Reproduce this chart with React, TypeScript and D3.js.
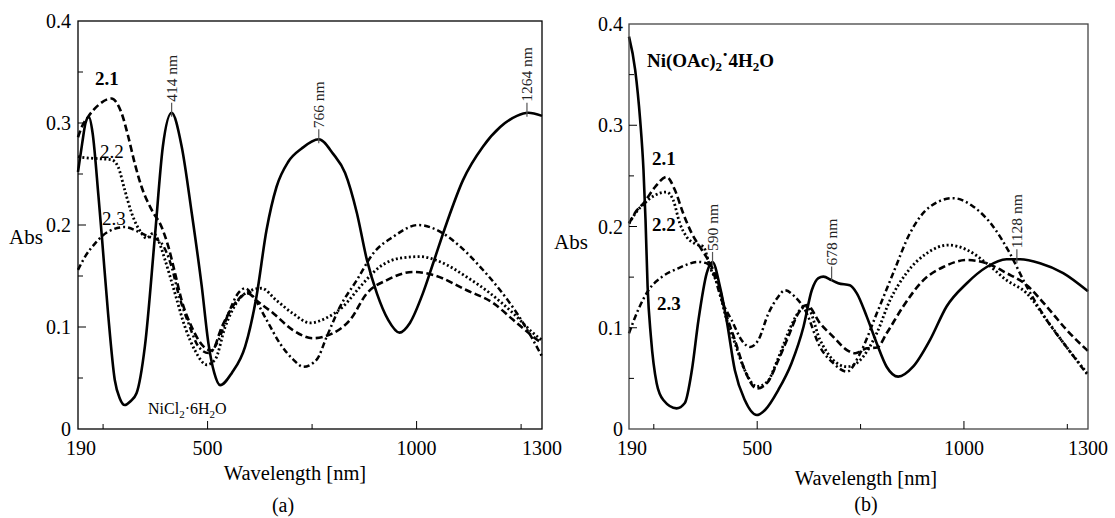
import React from "react";
import * as d3 from "d3";

// ---------- data (wavelength nm, absorbance) ----------
const xTickLabels = [190, 500, 1000, 1300];
const xTicksAll = [250, 500, 750, 1000, 1250];
const yTickLabels = [0, 0.1, 0.2, 0.3, 0.4];
const yTicksAll = [0.05, 0.1, 0.15, 0.2, 0.25, 0.3, 0.35];

// Panel (a) NiCl2·6H2O
const aSolid: [number, number][] = [
  [190, 0.252], [200, 0.28], [208, 0.3], [216, 0.306], [225, 0.29], [239, 0.228], [247, 0.189],
  [262, 0.113], [278, 0.048], [290, 0.03], [302, 0.0235], [315, 0.027], [330, 0.035], [350, 0.081],
  [374, 0.189], [393, 0.277], [414, 0.31], [438, 0.277], [462, 0.212], [486, 0.14], [502, 0.084],
  [516, 0.055], [530, 0.043], [558, 0.055], [590, 0.081], [617, 0.13], [641, 0.195], [665, 0.2375],
  [693, 0.262], [725, 0.275], [766, 0.284], [800, 0.27], [829, 0.251], [857, 0.212], [881, 0.166],
  [905, 0.133], [932, 0.107], [959, 0.0945], [984, 0.104], [1015, 0.133], [1040, 0.163], [1072, 0.202],
  [1111, 0.244], [1159, 0.277], [1200, 0.296], [1240, 0.307], [1267, 0.31], [1300, 0.307],
];
const aDashed: [number, number][] = [
  [190, 0.286], [200, 0.297], [214, 0.306], [240, 0.318], [270, 0.324], [294, 0.31], [310, 0.287],
  [326, 0.26], [342, 0.2375], [366, 0.215], [390, 0.198], [406, 0.179], [422, 0.153], [438, 0.126],
  [462, 0.1], [490, 0.081], [510, 0.077], [534, 0.1], [566, 0.1235], [597, 0.133], [617, 0.126],
  [657, 0.1135], [704, 0.097], [752, 0.089], [800, 0.094], [841, 0.107], [881, 0.133], [929, 0.146],
  [992, 0.154], [1040, 0.151], [1120, 0.136], [1183, 0.1235], [1231, 0.107], [1279, 0.0905], [1300, 0.084],
];
const aDotted: [number, number][] = [
  [190, 0.267], [207, 0.266], [240, 0.265], [270, 0.264], [286, 0.257], [302, 0.234], [318, 0.212],
  [342, 0.192], [354, 0.187], [370, 0.192], [382, 0.185], [398, 0.166], [422, 0.133], [446, 0.1],
  [470, 0.077], [498, 0.063], [518, 0.068], [542, 0.1], [573, 0.126], [605, 0.136], [629, 0.138],
  [665, 0.126], [705, 0.113], [745, 0.104], [785, 0.109], [824, 0.12], [865, 0.1395], [912, 0.159],
  [960, 0.1675], [1008, 0.169], [1056, 0.164], [1120, 0.149], [1176, 0.133], [1231, 0.1135],
  [1279, 0.094], [1300, 0.087],
];
const aDashDot: [number, number][] = [
  [190, 0.156], [207, 0.169], [231, 0.182], [262, 0.1935], [302, 0.198], [334, 0.1935], [357, 0.189],
  [378, 0.186], [390, 0.182], [414, 0.159], [430, 0.133], [454, 0.104], [478, 0.081], [502, 0.0745],
  [526, 0.087], [550, 0.1135], [573, 0.133], [590, 0.138], [609, 0.13], [641, 0.107], [673, 0.084],
  [705, 0.068], [729, 0.061], [761, 0.068], [785, 0.0905], [817, 0.12], [857, 0.146], [896, 0.172],
  [944, 0.1885], [1004, 0.2], [1056, 0.1935], [1104, 0.179], [1152, 0.159], [1200, 0.136],
  [1240, 0.1135], [1279, 0.087], [1300, 0.071],
];
const aPeaks: [number, number, string][] = [
  [414, 0.31, "414 nm"], [766, 0.284, "766 nm"], [1264, 0.31, "1264 nm"],
];

// Panel (b) Ni(OAc)2·4H2O
const bSolid: [number, number][] = [
  [190, 0.3875], [205, 0.3545], [217, 0.305], [225, 0.256], [230, 0.206], [235, 0.1405], [243, 0.091],
  [257, 0.045], [273, 0.0286], [305, 0.0204], [325, 0.0257], [342, 0.058], [358, 0.1077], [378, 0.154],
  [392, 0.165], [410, 0.1405], [426, 0.1077], [446, 0.058], [470, 0.0286], [499, 0.0138], [519, 0.0188],
  [551, 0.0385], [583, 0.065], [612, 0.101], [632, 0.137], [648, 0.149], [660, 0.1505], [680, 0.147],
  [696, 0.144], [724, 0.142], [741, 0.134], [765, 0.111], [789, 0.0847], [813, 0.0615], [841, 0.0517],
  [877, 0.0615], [918, 0.088], [958, 0.121], [1007, 0.144], [1055, 0.16], [1103, 0.1676], [1136, 0.1676],
  [1184, 0.1637], [1240, 0.154], [1300, 0.136],
];
const bDashed: [number, number][] = [
  [190, 0.203], [209, 0.216], [225, 0.223], [253, 0.239], [281, 0.249], [301, 0.236], [321, 0.213],
  [342, 0.193], [366, 0.177], [386, 0.1636], [406, 0.144], [422, 0.1175], [446, 0.088], [470, 0.058],
  [499, 0.04], [523, 0.045], [551, 0.068], [575, 0.091], [599, 0.114], [620, 0.1225], [652, 0.1044],
  [684, 0.091], [717, 0.078], [737, 0.0748], [765, 0.0797], [790, 0.0805], [813, 0.0945], [853, 0.121],
  [902, 0.147], [950, 0.16], [1007, 0.1669], [1055, 0.1636], [1103, 0.154], [1152, 0.142], [1200, 0.121],
  [1248, 0.098], [1300, 0.077],
];
const bDotted: [number, number][] = [
  [190, 0.203], [209, 0.215], [225, 0.222], [253, 0.231], [281, 0.234], [297, 0.226], [313, 0.203],
  [329, 0.19], [350, 0.183], [370, 0.18], [386, 0.16], [406, 0.1405], [422, 0.114], [446, 0.085],
  [470, 0.058], [499, 0.042], [523, 0.046], [551, 0.07], [580, 0.1], [605, 0.118], [620, 0.121],
  [652, 0.088], [684, 0.068], [717, 0.0615], [749, 0.068], [789, 0.0945], [821, 0.127], [861, 0.154],
  [910, 0.1735], [962, 0.1817], [1007, 0.177], [1055, 0.1636], [1103, 0.147], [1152, 0.134],
  [1200, 0.1077], [1248, 0.081], [1300, 0.054],
];
const bDashDot: [number, number][] = [
  [190, 0.0945], [212, 0.1175], [237, 0.137], [269, 0.15], [309, 0.1587], [358, 0.165], [378, 0.1636],
  [394, 0.154], [414, 0.127], [438, 0.1077], [462, 0.088], [483, 0.081], [503, 0.088], [527, 0.114],
  [551, 0.1307], [567, 0.137], [591, 0.1307], [616, 0.1175], [652, 0.081], [684, 0.065], [717, 0.0566],
  [749, 0.0748], [789, 0.114], [829, 0.154], [869, 0.193], [918, 0.2196], [974, 0.228], [1023, 0.2196],
  [1071, 0.1998], [1111, 0.1735], [1152, 0.1405], [1200, 0.1077], [1248, 0.081], [1300, 0.053],
];
const bPeaks: [number, number, string][] = [
  [392, 0.165, "590 nm"], [680, 0.1505, "678 nm"], [1128, 0.1676, "1128 nm"],
];

const FONT = "Liberation Serif, Tinos, Times New Roman, DejaVu Serif, serif";

const styles = {
  solid: { width: 2.6, dash: "none" },
  dashed: { width: 2.6, dash: "7,3.5" },
  dotted: { width: 2.8, dash: "2,2.4" },
  dashdot: { width: 2.5, dash: "6,3,2,3" },
};

type PanelProps = {
  x0: number; x1: number; yTop: number; yBot: number;
  series: { data: [number, number][]; style: keyof typeof styles }[];
  peaks: [number, number, string][];
  yLabelX: number; absX: number; absY: number;
  titleX: number; titleY: number;
  children?: React.ReactNode;
  frameColor: string;
};

function Panel(p: PanelProps) {
  const x = d3.scaleLinear().domain([190, 1300]).range([p.x0, p.x1]);
  const y = d3.scaleLinear().domain([0, 0.4]).range([p.yBot, p.yTop]);
  const line = d3.line<[number, number]>()
    .x((d) => x(d[0]))
    .y((d) => y(d[1]))
    .curve(d3.curveMonotoneX);
  return (
    <g>
      {p.series.map((s, i) => (
        <path key={i} d={line(s.data) || ""} fill="none" stroke="#000"
          strokeWidth={styles[s.style].width} strokeDasharray={styles[s.style].dash}
          strokeLinejoin="round" />
      ))}
      <rect x={p.x0} y={p.yTop} width={p.x1 - p.x0} height={p.yBot - p.yTop}
        fill="none" stroke={p.frameColor} strokeWidth={1.3} />
      {yTicksAll.map((t) => (
        <line key={"yt" + t} x1={p.x0} x2={p.x0 + (Math.abs((t * 10) % 1) < 1e-6 ? 8 : 5)}
          y1={y(t)} y2={y(t)} stroke="#000" strokeWidth={1} />
      ))}
      {xTicksAll.map((t) => (
        <line key={"xt" + t} x1={x(t)} x2={x(t)} y1={p.yBot}
          y2={p.yBot - (t % 500 === 0 ? 8 : 5)} stroke="#000" strokeWidth={1} />
      ))}
      {yTickLabels.map((t) => (
        <text key={"yl" + t} x={p.yLabelX} y={y(t)} dy="0.35em" textAnchor="end"
          fontSize={20}>{t === 0 ? "0" : t.toFixed(1)}</text>
      ))}
      {xTickLabels.map((t) => (
        <text key={"xl" + t} x={x(t) + (t === 190 ? 3 : 0)} y={p.yBot + 26} textAnchor="middle"
          fontSize={20}>{t}</text>
      ))}
      <text x={p.absX} y={p.absY} fontSize={21}>Abs</text>
      <text x={p.titleX} y={p.titleY} textAnchor="middle" fontSize={20.5}>Wavelength [nm]</text>
      {p.peaks.map((pk, i) => {
        const px = x(pk[0]);
        const py = y(pk[1]);
        return (
          <g key={"pk" + i}>
            <line x1={px} x2={px} y1={py + 4} y2={py - 10} stroke="#555" strokeWidth={1.2} />
            <text transform={`translate(${px},${py - 11}) rotate(-90)`} dy="0.35em"
              fontSize={15.5} fill="#222">{pk[2]}</text>
          </g>
        );
      })}
      {p.children}
    </g>
  );
}

export default function App() {
  return (
    <svg width={1115} height={518}
      style={{ position: "absolute", left: 0, top: 0, background: "#fff", fontFamily: FONT }}>
      <Panel x0={78} x1={542} yTop={21} yBot={429} frameColor="#000"
        series={[
          { data: aSolid, style: "solid" },
          { data: aDashed, style: "dashed" },
          { data: aDotted, style: "dotted" },
          { data: aDashDot, style: "dashdot" },
        ]}
        peaks={aPeaks} yLabelX={71} absX={9} absY={244} titleX={295} titleY={480}>
        <text x={95} y={85} fontSize={19} fontWeight="bold">2.1</text>
        <text x={100} y={158} fontSize={19}>2.2</text>
        <text x={102} y={225} fontSize={19}>2.3</text>
        <text x={148} y={414} fontSize={16}>
          NiCl<tspan fontSize={11} dy={4}>2</tspan><tspan dy={-4}>·6H</tspan>
          <tspan fontSize={11} dy={4}>2</tspan><tspan dy={-4}>O</tspan>
        </text>
        <text x={283} y={512} textAnchor="middle" fontSize={20}>(a)</text>
      </Panel>
      <Panel x0={629} x1={1088} yTop={24} yBot={429} frameColor="#444"
        series={[
          { data: bSolid, style: "solid" },
          { data: bDashed, style: "dashed" },
          { data: bDotted, style: "dotted" },
          { data: bDashDot, style: "dashdot" },
        ]}
        peaks={bPeaks} yLabelX={623} absX={554} absY={249} titleX={866} titleY={485}>
        <text x={647} y={67} fontSize={19} fontWeight="bold">
          Ni(OAc)<tspan fontSize={13} dy={4}>2</tspan><tspan dy={-10}>·</tspan>
          <tspan dy={6}>4H</tspan><tspan fontSize={13} dy={4}>2</tspan><tspan dy={-4}>O</tspan>
        </text>
        <text x={652} y={165} fontSize={19} fontWeight="bold">2.1</text>
        <text x={652} y={231} fontSize={19} fontWeight="bold">2.2</text>
        <text x={657} y={310} fontSize={19} fontWeight="bold">2.3</text>
        <text x={866} y={511} textAnchor="middle" fontSize={20}>(b)</text>
      </Panel>
    </svg>
  );
}
